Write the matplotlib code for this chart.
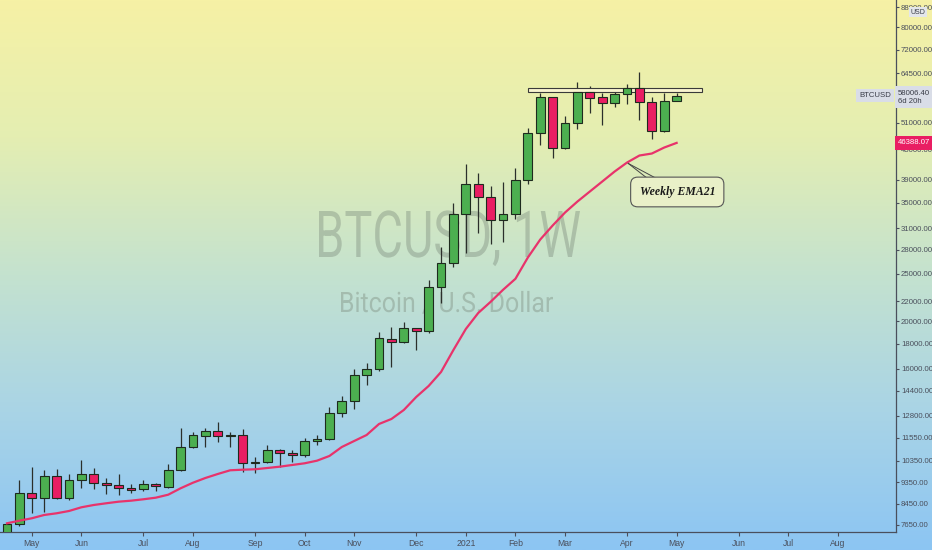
import numpy as np
import pandas as pd
import matplotlib
matplotlib.use('Agg')
import matplotlib.pyplot as plt
from matplotlib.colors import LinearSegmentedColormap
from matplotlib.patches import Rectangle, PathPatch
from matplotlib.textpath import TextPath
from matplotlib.font_manager import FontProperties
from matplotlib.transforms import Affine2D


# Weekly BTCUSD candles (week starting Apr 20 2020)
opens = [7150, 7690, 8910, 8705, 9640, 8680, 9445, 9730, 9310, 9250,
         9110, 9050, 9285, 9165, 9915, 11035, 11660, 11900, 11640, 11715,
         10235, 10280, 10915, 10760, 10625, 11350, 11480, 12995, 13730, 15500,
         15945, 18370, 18110, 19345, 19130, 23475, 26290, 33175, 38210, 35890,
         32245, 33175, 38940, 48675, 57525, 45350, 51030, 59065, 57525, 55920,
         58340, 60015, 56265, 49065, 56610]
highs = [7740, 9460, 10070, 9915, 9950, 9730, 10395, 9995, 9565, 9730,
         9285, 9460, 9310, 10200, 12070, 11880, 12070, 12435, 11865, 12030,
         10525, 11160, 10965, 10895, 11515, 11695, 13370, 14080, 15945, 16450,
         18985, 19495, 19900, 19345, 24300, 28350, 34890, 41990, 40190, 37855,
         38635, 41150, 49695, 58615, 57525, 52665, 61915, 60675, 58615, 60015,
         61245, 64905, 57685, 58615, 58615]
lows = [6850, 7610, 8085, 8145, 8650, 8595, 9095, 9050, 8870, 8815,
        8880, 8980, 8995, 9095, 9885, 10985, 11070, 11335, 11070, 9840,
        9790, 10235, 10075, 10315, 10525, 11160, 11420, 12750, 13205, 14805,
        15840, 16140, 18025, 17465, 18950, 21830, 25800, 27560, 30285, 28795,
        29110, 32350, 38210, 45930, 43140, 45010, 49460, 53345, 50480, 54875,
        55660, 51685, 47185, 48905, 56610]
closes = [7690, 8910, 8705, 9640, 8680, 9445, 9730, 9310, 9240, 9095,
          9040, 9285, 9180, 9915, 11050, 11680, 11900, 11640, 11715, 10235,
          10315, 10915, 10725, 10645, 11350, 11480, 12995, 13730, 15500, 15945,
          18455, 18135, 19345, 19130, 23475, 26290, 33175, 38210, 35890, 32245,
          33175, 38940, 48675, 57525, 45220, 51030, 59065, 57415, 55920, 58340,
          60015, 56265, 49065, 56610, 58006.40]
ema21 = [7712, 7807, 7896, 8020, 8084, 8172, 8316, 8407, 8475, 8539,
         8579, 8636, 8702, 8825, 9096, 9339, 9549, 9731, 9902, 9930,
         9949, 10010, 10072, 10153, 10234, 10361, 10594, 11052, 11370, 11696,
         12319, 12613, 13160, 13992, 14737, 15742, 17466, 19283, 20795, 21921,
         23197, 24433, 27010, 29404, 31413, 33400, 35179, 36879, 38659, 40528,
         42283, 43706, 44118, 45385, 46388.07]

price_ticks = [7650, 8450, 9350, 10350, 11550, 12800, 14400, 16000, 18000, 20000,
               22000, 25000, 28000, 31000, 35000, 39000, 45000, 51000,
               64500, 72000, 80000, 88000]

resistance = (59063, 60186)   # horizontal zone drawn at the top
ema_note = 'Weekly EMA21'

n = len(opens)
weeks = pd.date_range('2020-04-20', periods=72, freq='W-MON')
x = np.arange(n)

# month ticks at the first weekly bar of each month
month_pos, month_lab = [], []
for i in range(1, len(weeks)):
    if weeks[i].month != weeks[i - 1].month and i <= 68:
        month_pos.append(i)
        month_lab.append(str(weeks[i].year) if weeks[i].month == 1 else weeks[i].strftime('%b'))

up = '#4caf50'
down = '#e91e63'
edge = '#1e2a1e'
txt = '#4a4f5c'
small = ['Liberation Sans', 'DejaVu Sans']

W, H = 932, 550
fig = plt.figure(figsize=(W / 100, H / 100), dpi=100)

# gradient background
bg = fig.add_axes([0, 0, 1, 1])
cmap = LinearSegmentedColormap.from_list('bg', ['#f6f1a5', '#e4eeb2', '#c4e2cf', '#a9d4e6', '#8cc5f3'])
bg.imshow(np.linspace(0, 1, 256).reshape(-1, 1), aspect='auto', cmap=cmap, extent=[0, 1, 0, 1])
bg.axis('off')
bg.set_zorder(-5)

ax = fig.add_axes([0, 18 / H, 896 / W, 532 / H])
ax.set_facecolor('none')
ax.set_yscale('log')


def watermark(s, x0, x1, ytop, ybase):
    # squeeze a text path into a box given in picture pixels
    fp = FontProperties(family=['Roboto', 'DejaVu Sans'])
    p = TextPath((0, 0), s, size=1, prop=fp)
    cap = TextPath((0, 0), 'B', size=1, prop=fp).get_extents().y1
    ext = p.get_extents()
    sx = (x1 - x0) / (ext.x1 - ext.x0)
    sy = (ybase - ytop) / cap
    tr = Affine2D().translate(-ext.x0, 0).scale(sx, sy).translate(x0, H - ybase)
    ax.add_patch(PathPatch(p, transform=tr, facecolor='#7a887a', edgecolor='none',
                           alpha=0.4, zorder=0))


watermark('BTCUSD, 1W', 319, 580, 211, 257)
watermark('Bitcoin / U.S. Dollar', 341, 553, 292, 312)

# candles
o = np.array(opens)
c = np.array(closes)
cols = [up if cc >= oo else down for oo, cc in zip(o, c)]
ax.vlines(x, lows, highs, color='#2b2f2b', lw=0.9, zorder=2)
ax.bar(x, np.abs(c - o), bottom=np.minimum(o, c), width=0.72, color=cols,
       edgecolor=edge, linewidth=0.8, zorder=3)

# EMA 21
ax.plot(x, ema21, color='#e8336b', lw=1.6, zorder=4)

# resistance zone
ax.add_patch(Rectangle((42.04, resistance[0]), 14.03, resistance[1] - resistance[0],
                       facecolor='#f8f4cf', edgecolor='#3a3a3a', lw=0.8, zorder=2.5))

# callout
ax.plot([50.1, 51.6], [42100, 39313], color='#444', lw=0.7, zorder=5)
ax.plot([50.1, 52.3], [42100, 39313], color='#444', lw=0.7, zorder=5)
ax.text(54.05, 36800, ema_note, ha='center', va='center', fontsize=8.5, fontstyle='italic',
        fontweight='bold', family=['Liberation Serif', 'DejaVu Serif'], color='#1a1a1a', zorder=6,
        bbox=dict(boxstyle='round,pad=0.75,rounding_size=0.6', fc='#e9f0c8', ec='#555555', lw=0.8))

ax.set_xlim(-0.565, 71.69)
ax.set_ylim(7401, 91020)

ax.yaxis.tick_right()
ax.set_yticks(price_ticks)
ax.set_yticklabels([f'{t:.2f}' for t in price_ticks], family=small)
ax.yaxis.set_minor_locator(matplotlib.ticker.NullLocator())
ax.tick_params(axis='y', labelsize=5.6, colors=txt, length=2.5, width=0.8, pad=1)
ax.set_xticks(month_pos)
ax.set_xticklabels(month_lab, family=small)
ax.tick_params(axis='x', labelsize=6.2, colors=txt, length=3, width=0.8, pad=2)

for s in ['top', 'left']:
    ax.spines[s].set_visible(False)
for s in ['right', 'bottom']:
    ax.spines[s].set_color(txt)
    ax.spines[s].set_linewidth(0.9)

# price labels on the scale
ytr = ax.get_yaxis_transform()
ax.annotate(f'{closes[-1]:.2f}\n6d 20h', xy=(1, closes[-1]), xycoords=ytr, xytext=(1.5, 4.3),
            textcoords='offset points', ha='left', va='top', fontsize=5.6, color='#3a3d48',
            family=small, linespacing=1.35, annotation_clip=False, zorder=10,
            bbox=dict(boxstyle='square,pad=0.4', fc='#d9dde7', ec='none'))
ax.annotate('BTCUSD', xy=(1, closes[-1]), xycoords=ytr, xytext=(-3.5, 0),
            textcoords='offset points', ha='right', va='center', fontsize=5.6, color='#3a3d48',
            family=small, annotation_clip=False, zorder=10,
            bbox=dict(boxstyle='square,pad=0.4', fc='#d9dde7', ec='none'))
ax.annotate(f'{ema21[-1]:.2f}', xy=(1, ema21[-1]), xycoords=ytr, xytext=(1.5, 0),
            textcoords='offset points', ha='left', va='center', fontsize=5.6, color='white',
            family=small, annotation_clip=False, zorder=10,
            bbox=dict(boxstyle='square,pad=0.4', fc='#e91e63', ec='none'))
fig.text(918 / W, 1 - 12 / H, 'USD', ha='center', va='center', fontsize=5, color='#3a3d48',
         family=small, bbox=dict(boxstyle='square,pad=0.25', fc='#e3e6ea', ec='none'))

fig.savefig('out.png', dpi=100)
